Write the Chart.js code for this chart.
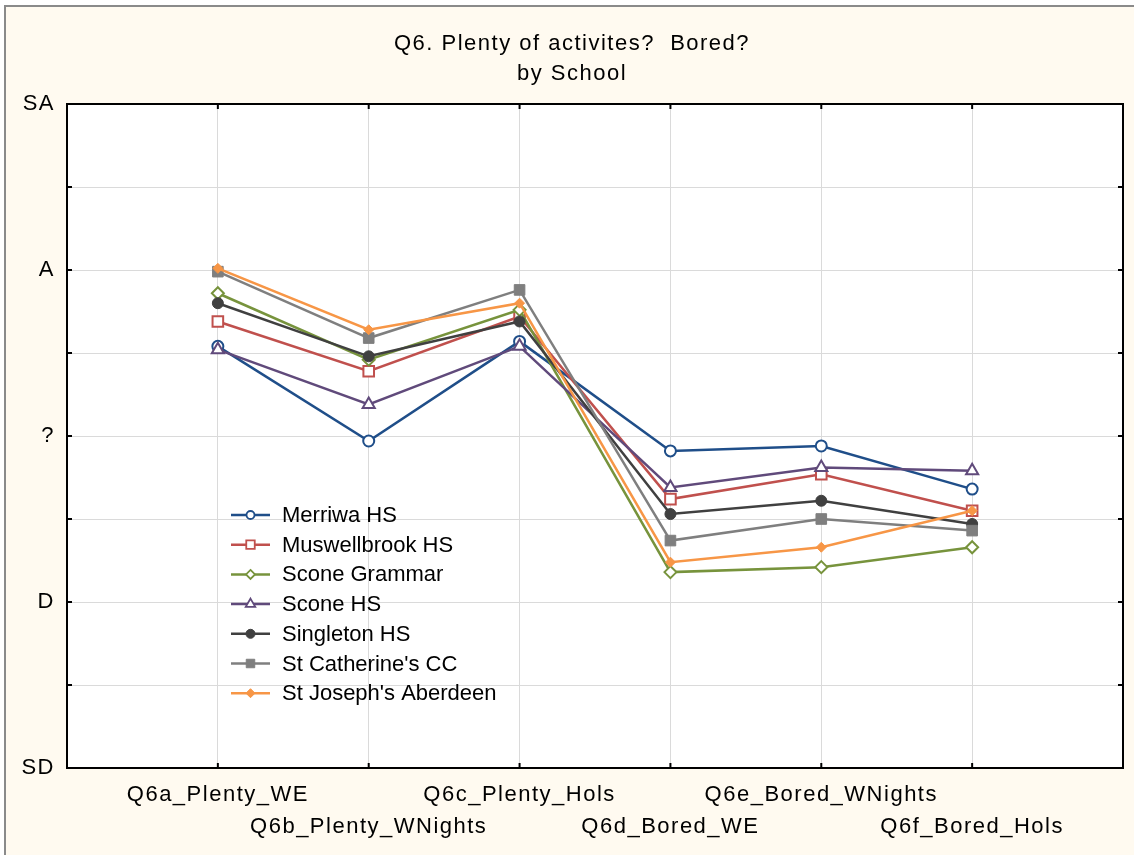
<!DOCTYPE html>
<html>
<head>
<meta charset="utf-8">
<script src="https://cdn.jsdelivr.net/npm/chart.js@4/dist/chart.umd.min.js"></script>
<style>
  html, body { margin: 0; padding: 0; background: #ffffff; }
  #wrap { width: 1134px; height: 855px; }
</style>
</head>
<body>
<div id="wrap"><canvas id="c" width="1134" height="855"></canvas></div>
<script>
// ---------- DATA ----------
const categories = ['Q6a_Plenty_WE', 'Q6b_Plenty_WNights', 'Q6c_Plenty_Hols', 'Q6d_Bored_WE', 'Q6e_Bored_WNights', 'Q6f_Bored_Hols'];
const yTickLabels = ['SD', 'D', '?', 'A', 'SA']; // values 1..5
const seriesNames = ['Merriwa HS', 'Muswellbrook HS', 'Scone Grammar', 'Scone HS', 'Singleton HS', "St Catherine's CC", "St Joseph's Aberdeen"];
const merriwaHS       = [3.54, 2.97, 3.57, 2.91, 2.94, 2.68];
const muswellbrookHS  = [3.69, 3.39, 3.72, 2.62, 2.77, 2.55];
const sconeGrammar    = [3.86, 3.46, 3.76, 2.18, 2.21, 2.33];
const sconeHS         = [3.52, 3.19, 3.54, 2.69, 2.81, 2.79];
const singletonHS     = [3.80, 3.48, 3.69, 2.53, 2.61, 2.47];
const stCatherinesCC  = [3.99, 3.59, 3.88, 2.37, 2.50, 2.43];
const stJosephsAberdeen = [4.01, 3.64, 3.80, 2.24, 2.33, 2.55];
const seriesValues = [merriwaHS, muswellbrookHS, sconeGrammar, sconeHS, singletonHS, stCatherinesCC, stJosephsAberdeen];

// ---------- STYLES ----------
const styles = [
  { color: '#1F4E89', shape: 'circle',   filled: false, r: 5.5, lr: 4 },
  { color: '#C0504D', shape: 'rect',     filled: false, r: 7.5, lr: 6 },
  { color: '#77933C', shape: 'rectRot',  filled: false, r: 6,   lr: 4.5 },
  { color: '#604A7B', shape: 'triangle', filled: false, r: 7,   lr: 5.5 },
  { color: '#404040', shape: 'circle',   filled: true,  r: 5.5, lr: 4.5 },
  { color: '#7F7F7F', shape: 'rect',     filled: true,  r: 7.5, lr: 6 },
  { color: '#F79646', shape: 'rectRot',  filled: true,  r: 5,   lr: 4.5 }
];

const FONT = '"Liberation Sans", Arial, sans-serif';
Chart.defaults.color = '#000000';
Chart.defaults.font.family = FONT;

const datasets = seriesNames.map((name, i) => {
  const st = styles[i];
  return {
    label: name,
    data: seriesValues[i].map((v, j) => ({ x: j + 1, y: v })),
    borderColor: st.color,
    backgroundColor: st.color,
    borderWidth: 2.5,
    tension: 0,
    pointStyle: st.shape,
    pointRadius: st.r,
    pointBorderWidth: st.filled ? 1 : 2,
    pointBorderColor: st.color,
    pointBackgroundColor: st.filled ? st.color : '#ffffff',
    order: seriesNames.length - i
  };
});

function drawMarker(ctx, shape, x, y, r) {
  ctx.beginPath();
  if (shape === 'circle') {
    ctx.arc(x, y, r, 0, Math.PI * 2);
  } else if (shape === 'rect') {
    const h = r * Math.SQRT1_2;
    ctx.rect(x - h, y - h, 2 * h, 2 * h);
  } else if (shape === 'rectRot') {
    ctx.moveTo(x, y - r); ctx.lineTo(x + r, y); ctx.lineTo(x, y + r); ctx.lineTo(x - r, y); ctx.closePath();
  } else if (shape === 'triangle') {
    const a = Math.PI * 2 / 3;
    ctx.moveTo(x, y - r);
    ctx.lineTo(x + Math.sin(a) * r, y - Math.cos(a) * r);
    ctx.lineTo(x + Math.sin(2 * a) * r, y - Math.cos(2 * a) * r);
    ctx.closePath();
  }
}

const framePlugin = {
  id: 'frame',
  beforeDraw(chart) {
    const { ctx, chartArea: a } = chart;
    ctx.save();
    ctx.fillStyle = '#ffffff';
    ctx.fillRect(0, 0, chart.width, chart.height);
    ctx.fillStyle = '#FFFAF0';
    ctx.fillRect(5, 6, chart.width, chart.height);
    ctx.strokeStyle = '#8a8a8a';
    ctx.lineWidth = 2;
    ctx.beginPath();
    ctx.moveTo(5, chart.height + 5); ctx.lineTo(5, 6); ctx.lineTo(chart.width + 5, 6);
    ctx.stroke();
    ctx.fillStyle = '#ffffff';
    ctx.fillRect(a.left, a.top, a.right - a.left, a.bottom - a.top);
    ctx.restore();
    try { ctx.letterSpacing = '1.5px'; } catch (e) {}
  },
  beforeDatasetsDraw(chart) {
    try { chart.ctx.letterSpacing = '0px'; } catch (e) {}
  },
  afterDatasetsDraw(chart) {
    const { ctx, chartArea: a, scales: { x, y } } = chart;
    ctx.save();
    ctx.strokeStyle = '#000000';
    ctx.lineWidth = 2;
    ctx.strokeRect(a.left, a.top, a.right - a.left, a.bottom - a.top);
    ctx.beginPath();
    x.ticks.forEach(t => {
      if (t.value <= x.min || t.value >= x.max) return;
      const px = x.getPixelForValue(t.value);
      ctx.moveTo(px, a.bottom); ctx.lineTo(px, a.bottom - 5);
      ctx.moveTo(px, a.top); ctx.lineTo(px, a.top + 5);
    });
    y.ticks.forEach(t => {
      if (t.value <= y.min || t.value >= y.max) return;
      const py = y.getPixelForValue(t.value);
      ctx.moveTo(a.left, py); ctx.lineTo(a.left + 5, py);
      ctx.moveTo(a.right, py); ctx.lineTo(a.right - 5, py);
    });
    ctx.stroke();

    // legend
    const lx0 = 231, lx1 = 270, tx = 282, ly0 = 515, dy = 29.7;
    ctx.font = '22px ' + FONT;
    ctx.textBaseline = 'middle';
    ctx.textAlign = 'left';
    chart.data.datasets.forEach((ds, i) => {
      const st = styles[i];
      const yy = ly0 + i * dy;
      ctx.strokeStyle = st.color;
      ctx.lineWidth = 2.5;
      ctx.beginPath(); ctx.moveTo(lx0, yy); ctx.lineTo(lx1, yy); ctx.stroke();
      drawMarker(ctx, st.shape, (lx0 + lx1) / 2, yy, st.lr);
      ctx.fillStyle = st.filled ? st.color : '#ffffff';
      ctx.fill();
      ctx.lineWidth = st.filled ? 1 : 1.8;
      ctx.stroke();
      ctx.fillStyle = '#000000';
      ctx.fillText(ds.label, tx, yy + 1);
    });
    ctx.restore();
  }
};

new Chart(document.getElementById('c'), {
  type: 'line',
  data: { datasets },
  plugins: [framePlugin],
  options: {
    responsive: false,
    animation: false,
    devicePixelRatio: 1,
    layout: { padding: { left: 18, right: 8, top: 0, bottom: 0 } },
    plugins: {
      legend: { display: false },
      tooltip: { enabled: false },
      title: {
        display: true,
        text: ['Q6. Plenty of activites?  Bored?', 'by School'],
        color: '#000000',
        font: { size: 22, weight: 'normal', family: FONT, lineHeight: 1.35 },
        padding: { top: 29, bottom: 15.6 }
      }
    },
    scales: {
      x: {
        type: 'linear',
        min: 0,
        max: categories.length + 1,
        grid: { color: '#dadada', lineWidth: 1, drawTicks: false },
        border: { display: false },
        afterFit(scale) { scale.height = 87; },
        ticks: {
          stepSize: 1,
          autoSkip: false,
          maxRotation: 0,
          minRotation: 0,
          padding: 11,
          color: '#000000',
          font: { size: 22, family: FONT, lineHeight: 1.45 },
          callback(value) {
            const i = Math.round(value) - 1;
            if (i < 0 || i >= categories.length) return '';
            return i % 2 === 0 ? categories[i] : ['', categories[i]];
          }
        }
      },
      y: {
        type: 'linear',
        min: 1,
        max: 5,
        grid: { color: '#dadada', lineWidth: 1, drawTicks: false },
        border: { display: false },
        afterFit(scale) { scale.width = 49; },
        ticks: {
          stepSize: 0.5,
          autoSkip: false,
          padding: 12,
          color: '#000000',
          font: { size: 22, family: FONT },
          callback(value) {
            if (Math.abs(value - Math.round(value)) > 1e-6) return '';
            return yTickLabels[Math.round(value) - 1] || '';
          }
        }
      }
    }
  }
});
</script>
</body>
</html>
